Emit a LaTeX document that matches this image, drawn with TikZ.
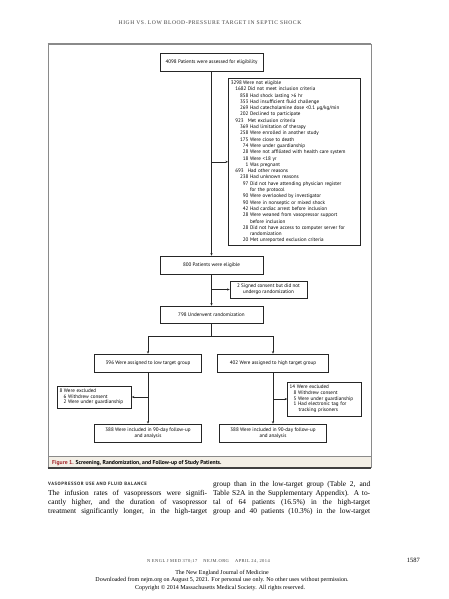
\documentclass[tikz,border=0pt]{standalone}
\usepackage{fontspec}
\setmainfont{Liberation Serif}
\newfontfamily\boxfont{PT Sans}
\newfontfamily\hdrfont[LetterSpace=10]{Liberation Serif}
\newfontfamily\headfont[LetterSpace=12]{PT Sans}
\usetikzlibrary{arrows.meta}
\definecolor{framegrey}{HTML}{8A8A8A}
\definecolor{capbg}{HTML}{F3EFE6}
\definecolor{figred}{HTML}{A3262A}
\newcommand{\Lz}[2]{\makebox[2.1em][l]{#1} #2\\}
\newcommand{\Lo}[2]{\hspace*{0.9em}\makebox[2.1em][l]{#1} #2\\}
\newcommand{\Lt}[2]{\hspace*{1.9em}\makebox[1.55em][r]{#1} #2\\}
\newcommand{\Lc}[1]{\hspace*{1.9em}\makebox[1.55em][r]{} #1\\}
\begin{document}
\begin{tikzpicture}[x=1pt,y=-1pt,
  bx/.style={draw=black!85, line width=0.55pt, fill=white, align=center,
    font=\boxfont\fontsize{5.1}{5.7}\selectfont, inner sep=1pt},
  conn/.style={line width=0.5pt, draw=black!85},
  arr/.style={conn, -{Stealth[length=2.6pt,width=2.2pt]}},
  txt/.style={inner sep=0pt, anchor=base west},
  ctxt/.style={inner sep=0pt, anchor=base}]
\useasboundingbox (0,0) rectangle (449,599);
\fill[white] (0,0) rectangle (449,599);

% header
\node[ctxt, text=black!75, font=\hdrfont\fontsize{5.6}{6}\selectfont] (hdr) at (210,25) {HIGH VS. LOW BLOOD-PRESSURE TARGET IN SEPTIC SHOCK};

% frame
\fill[capbg] (48,456) rectangle (371,467.5);
\draw[framegrey, line width=0.6pt] (48,44) -- (48,467.5) (371,44) -- (371,467.5) (48,456) -- (371,456);
\draw[framegrey, line width=1.6pt] (47.7,44) -- (371.3,44);
\draw[black!75, line width=1.3pt] (47.7,468) -- (371.3,468);
\node[txt, font=\boxfont\bfseries\fontsize{5.7}{6}\selectfont] (cap) at (52,464) {\textcolor{figred}{Figure 1.} Screening, Randomization, and Follow-up of Study Patients.};

% boxes
\node[bx, minimum width=103pt, minimum height=18pt] (A) at (211.5,62) {4098 Patients were assessed for eligibility};
\node[bx, anchor=north west, align=left, text width=127pt, inner xsep=2.5pt, inner ysep=2.5pt,
  font=\boxfont\fontsize{5.1}{6.3}\selectfont] (B) at (228,78) {%
\Lz{3298}{Were not eligible}
\Lo{1682}{Did not meet inclusion criteria}
\Lt{858}{Had shock lasting {>}6 hr}
\Lt{353}{Had insufficient fluid challenge}
\Lt{269}{Had catecholamine dose {<}0.1 µg/kg/min}
\Lt{202}{Declined to participate}
\Lo{923}{Met exclusion criteria}
\Lt{369}{Had limitation of therapy}
\Lt{258}{Were enrolled in another study}
\Lt{175}{Were close to death}
\Lt{74}{Were under guardianship}
\Lt{28}{Were not affiliated with health care system}
\Lt{18}{Were {<}18 yr}
\Lt{1}{Was pregnant}
\Lo{693}{Had other reasons}
\Lt{238}{Had unknown reasons}
\Lt{97}{Did not have attending physician register}
\Lc{for the protocol}
\Lt{90}{Were overlooked by investigator}
\Lt{90}{Were in nonseptic or mixed shock}
\Lt{42}{Had cardiac arrest before inclusion}
\Lt{28}{Were weaned from vasopressor support}
\Lc{before inclusion}
\Lt{28}{Did not have access to computer server for}
\Lc{randomization}
\hspace*{1.9em}\makebox[1.55em][r]{20} Met unreported exclusion criteria};
\node[bx, minimum width=103pt, minimum height=18pt] (E) at (211.5,265) {800 Patients were eligible};
\node[bx, minimum width=77pt, minimum height=17pt] (F) at (268.5,289.5) {2 Signed consent but did not\\undergo randomization};
\node[bx, minimum width=103pt, minimum height=17pt] (G) at (211.5,314.5) {798 Underwent randomization};
\coordinate (J) at (211.5,336);
\node[bx, minimum width=107pt, minimum height=18pt] (L) at (148,363) {396 Were assigned to low target group};
\node[bx, minimum width=111pt, minimum height=18pt] (H) at (273,363) {402 Were assigned to high target group};
\node[bx, align=left, minimum width=74pt, text width=70pt, minimum height=22pt, inner xsep=2pt] (XL) at (94.5,397) {8 Were excluded\\\hspace*{0.8em}6 Withdrew consent\\\hspace*{0.8em}2 Were under guardianship};
\node[bx, align=left, minimum width=74pt, text width=70pt, minimum height=34pt, inner xsep=2pt] (XR) at (324.5,399) {14 Were excluded\\\hspace*{0.8em}8 Withdrew consent\\\hspace*{0.8em}5 Were under guardianship\\\hspace*{0.8em}1 Had electronic tag for\\\hspace*{1.8em}tracking prisoners};
\node[bx, minimum width=107pt, minimum height=18pt] (BL) at (148,433) {388 Were included in 90-day follow-up\\and analysis};
\node[bx, minimum width=107pt, minimum height=18pt] (BR) at (273,433) {388 Were included in 90-day follow-up\\and analysis};

% connectors
\draw[arr] (A) -- (E);
\draw[arr] (A.south |- B.west) -- (B.west);
\draw[arr] (E) -- (G);
\draw[arr] (E.south |- F.west) -- (F.west);
\draw[conn] (G.south) -- (J);
\draw[arr] (J) -| (L.north);
\draw[arr] (J) -| (H.north);
\draw[arr] (L) -- (BL);
\draw[arr] (H) -- (BR);
\draw[arr] (L.south |- XL.east) -- (XL.east);
\draw[arr] (H.south |- XR.west) -- (XR.west);

% text section
\node[txt, font=\headfont\bfseries\fontsize{4.7}{5}\selectfont, text=black!85] (sec) at (48,485.5) {VASOPRESSOR USE AND FLUID BALANCE};
\begin{scope}[every node/.style={txt, font=\fontsize{7.4}{9}\selectfont}]
\node (l1) at (48,495.5) {\makebox[159pt][s]{The infusion rates of vasopressors were signifi-}};
\node (l2) at (48,504.5) {\makebox[159pt][s]{cantly higher, and the duration of vasopressor}};
\node (l3) at (48,513.5) {\makebox[159pt][s]{treatment significantly longer, in the high-target}};
\node (r1) at (213,486.5) {\makebox[157pt][s]{group than in the low-target group (Table 2, and}};
\node (r2) at (213,495.5) {\makebox[157pt][s]{Table S2A in the Supplementary Appendix). A to-}};
\node (r3) at (213,504.5) {\makebox[157pt][s]{tal of 64 patients (16.5\%) in the high-target}};
\node (r4) at (213,513.5) {\makebox[157pt][s]{group and 40 patients (10.3\%) in the low-target}};
\end{scope}

% footer
\node[ctxt, font=\hdrfont\fontsize{4.5}{5}\selectfont, text=black!75] (ft) at (208.5,562) {N ENGL J MED 370;17 \quad NEJM.ORG \quad APRIL 24, 2014};
\node[anchor=base east, inner sep=0pt, font=\fontsize{6.5}{7}\selectfont] (pg) at (420,562) {1587};
\node[ctxt, font=\fontsize{6}{7}\selectfont] (f1) at (222,574) {The New England Journal of Medicine};
\node[ctxt, font=\fontsize{6}{7}\selectfont] (f2) at (222,581.5) {Downloaded from nejm.org on August 5, 2021. For personal use only. No other uses without permission.};
\node[ctxt, font=\fontsize{6}{7}\selectfont] (f3) at (220,589) {Copyright © 2014 Massachusetts Medical Society. All rights reserved.};
\end{tikzpicture}
\end{document}
